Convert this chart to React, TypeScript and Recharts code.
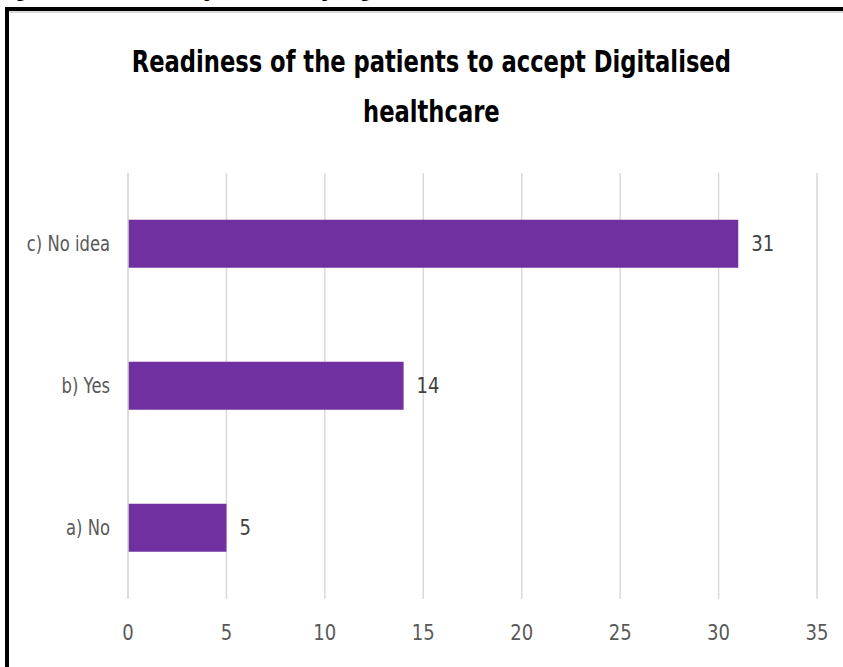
import React from "react";
import { BarChart, Bar, XAxis, YAxis, CartesianGrid, LabelList } from "recharts";

const categories = ["a) No", "b) Yes", "c) No idea"];
const counts = [5, 14, 31];
const xTicks = [0, 5, 10, 15, 20, 25, 30, 35];

const data = categories.map((name, i) => ({ name, value: counts[i] }));

const FONT = "'DejaVu Sans', sans-serif";
const SX = 0.86;
const SY_LABEL = 0.78;

const XTick = (props: any) => {
  const { x, y, payload } = props;
  return (
    <text transform={`translate(${x},${y}) scale(${SX},1)`} textAnchor="middle" dy="0.71em" fill="#595959" fontSize={21} fontFamily={FONT}>
      {payload.value}
    </text>
  );
};

const YTick = (props: any) => {
  const { x, y, payload } = props;
  return (
    <text transform={`translate(${x},${y}) scale(${SY_LABEL},1)`} textAnchor="end" dy="0.355em" fill="#595959" fontSize={21} fontFamily={FONT}>
      {payload.value}
    </text>
  );
};

const ValueLabel = (props: any) => {
  const { x, y, width, height, value } = props;
  const lx = x + width + 13;
  const ly = y + height / 2;
  return (
    <text transform={`translate(${lx},${ly}) scale(${SX},1)`} textAnchor="start" dy="0.355em" fill="#404040" fontSize={21} fontFamily={FONT}>
      {value}
    </text>
  );
};

export default function App() {
  return (
    <div style={{ position: "absolute", left: 0, top: 0, width: 843, height: 667, overflow: "hidden", background: "#fff" }}>
      <div style={{ position: "absolute", left: 0, top: -19, whiteSpace: "nowrap", fontFamily: "'Liberation Serif', serif", fontWeight: "bold", fontSize: 18 }}>
        Figure 5: Readiness of the patients to accept Digitalised healthcare
      </div>
      <div style={{ position: "absolute", left: 5, top: 7, width: 900, height: 700, borderTop: "4px solid #000", borderLeft: "4px solid #000", boxSizing: "border-box" }} />
      <div style={{ position: "absolute", left: 9, top: 11, width: 900, height: 2, background: "#d9d9d9" }} />
      <div style={{ position: "absolute", left: 0, top: 36, width: 843, textAlign: "center", paddingLeft: 20, boxSizing: "border-box", fontFamily: FONT, fontWeight: "bold", fontSize: 31, lineHeight: "50px", color: "#000", transform: "scale(0.73,1)", transformOrigin: "431px 0" }}>
        Readiness of the patients to accept Digitalised<br />healthcare
      </div>
      <div style={{ position: "absolute", left: 0, top: 0 }}>
        <BarChart width={843} height={667} data={data} layout="vertical" margin={{ top: 173, right: 26, bottom: 38, left: 0 }} barCategoryGap="33%">
          <CartesianGrid horizontal={false} stroke="#d9d9d9" strokeWidth={1.5} />
          <XAxis type="number" domain={[0, 35]} ticks={xTicks} height={30} axisLine={false} tickLine={false} tickMargin={20} tick={<XTick />} />
          <YAxis type="category" dataKey="name" reversed width={128} axisLine={{ stroke: "#d9d9d9", strokeWidth: 1.5 }} tickLine={false} tickSize={0} tickMargin={18} tick={<YTick />} />
          <Bar dataKey="value" fill="#7030A0" isAnimationActive={false}>
            <LabelList dataKey="value" content={<ValueLabel />} />
          </Bar>
        </BarChart>
      </div>
    </div>
  );
}
